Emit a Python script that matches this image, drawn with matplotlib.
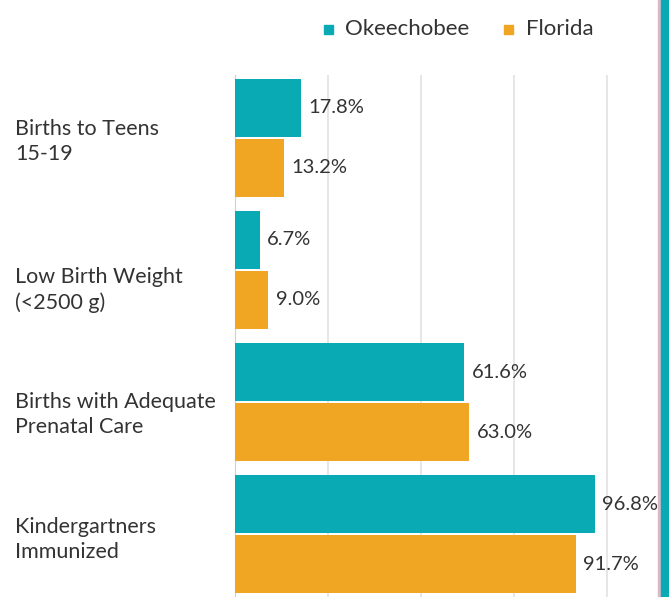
import numpy as np
import matplotlib.pyplot as plt
from matplotlib.patches import Rectangle
from matplotlib.transforms import blended_transform_factory

categories = ["Births to Teens\n15-19", "Low Birth Weight\n(<2500 g)",
              "Births with Adequate\nPrenatal Care", "Kindergartners\nImmunized"]
okeechobee = [17.8, 6.7, 61.6, 96.8]
florida = [13.2, 9.0, 63.0, 91.7]
series = ["Okeechobee", "Florida"]

teal = "#0AAAB4"
orange = "#F0A523"
txt = "#333333"

plt.rcParams['font.family'] = ['Lato', 'DejaVu Sans']

fig = plt.figure(figsize=(6.69, 5.97), dpi=100)
ax = fig.add_axes([235/669, 0, (655-235)/669, 1 - 75/597])

y = np.arange(len(categories))
h = 0.44
off = 0.2273
ax.barh(y - off, okeechobee, height=h, color=teal, zorder=3)
ax.barh(y + off, florida, height=h, color=orange, zorder=3)

for yi, v in zip(y - off, okeechobee):
    ax.text(v + 2, yi, f"{v:.1f}%", va="center", ha="left", fontsize=14.5, color=txt)
for yi, v in zip(y + off, florida):
    ax.text(v + 2, yi, f"{v:.1f}%", va="center", ha="left", fontsize=14.5, color=txt)

ax.set_xlim(0, 113)
ax.set_ylim(3.477, -0.477)
ax.set_xticks([25, 50, 75, 100])
ax.grid(axis="x", color="#e2e2e2", linewidth=1.2, zorder=0)
ax.tick_params(left=False, bottom=False, labelbottom=False, labelleft=False)
for s in ["top", "right", "bottom"]:
    ax.spines[s].set_visible(False)
ax.spines["left"].set_color("#d0d0d0")

# category labels sit a little below their group centre, not all by the same amount
label_shift = [0.025, 0.154, 0.093, 0.040]
tr = blended_transform_factory(fig.transFigure, ax.transData)
for yi, c, d in zip(y, categories, label_shift):
    ax.text(15/669, yi + d, c, transform=tr, ha="left", va="center",
            fontsize=15.5, color=txt, linespacing=1.33)

# legend
fig.patches.append(Rectangle((324/669, 1 - 34/597), 9/669, 9/597, color=teal, transform=fig.transFigure))
fig.text(345/669, 1 - 29/597, series[0], va="center", ha="left", fontsize=16, color=txt)
fig.patches.append(Rectangle((504/669, 1 - 34/597), 9/669, 9/597, color=orange, transform=fig.transFigure))
fig.text(526/669, 1 - 29/597, series[1], va="center", ha="left", fontsize=16, color=txt)

# right edge decoration
fig.patches.append(Rectangle((658/669, 0), 3/669, 1, color="#d9b8c8", transform=fig.transFigure))
fig.patches.append(Rectangle((661/669, 0), 8/669, 1, color=teal, transform=fig.transFigure))

fig.savefig("out.png", dpi=100)
